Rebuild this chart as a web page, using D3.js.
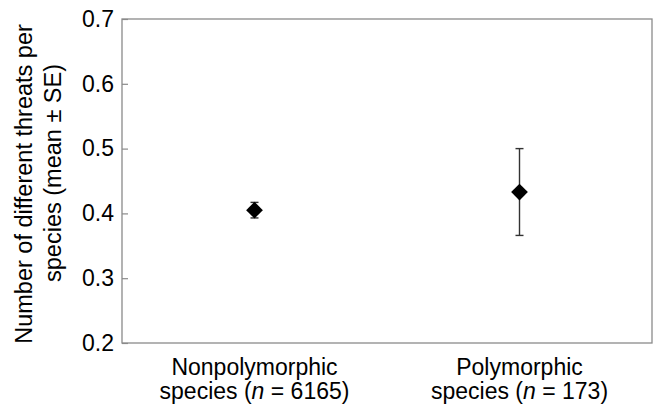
<!DOCTYPE html>
<html>
<head>
<meta charset="utf-8">
<script src="https://cdn.jsdelivr.net/npm/d3@7"></script>
<style>
  body { margin: 0; background: #fff; }
  text { font-family: "Liberation Sans", Arial, sans-serif; fill: #000; }
</style>
</head>
<body>
<svg id="chart"></svg>
<script>
// data
var groups = ['Nonpolymorphic', 'Polymorphic'];
var groupNotes = ['6165', '173'];
var means = [0.405, 0.433];
var errors = [0.012, 0.067];
var yTicks = [0.2, 0.3, 0.4, 0.5, 0.6, 0.7];

var width = 654, height = 407;
var margin = { top: 19, right: 2, bottom: 64, left: 122 };
var w = width - margin.left - margin.right;
var h = height - margin.top - margin.bottom;

var svg = d3.select('#chart').attr('width', width).attr('height', height);
var g = svg.append('g').attr('transform', 'translate(' + margin.left + ',' + margin.top + ')');

var x = d3.scalePoint().domain(groups).range([0, w]).padding(0.5);
var y = d3.scaleLinear().domain([0.2, 0.7]).range([h, 0]);

// frame
g.append('rect')
  .attr('x', 0).attr('y', 0).attr('width', w).attr('height', h)
  .attr('fill', 'none').attr('stroke', '#8a8a8a').attr('stroke-width', 1.3);

var yAxis = d3.axisLeft(y).tickValues(yTicks).tickFormat(d3.format('.1f')).tickSize(-6).tickPadding(8);
var ya = g.append('g').call(yAxis);
ya.select('.domain').remove();
ya.selectAll('line').attr('stroke', '#8a8a8a').attr('stroke-width', 1.2);
ya.selectAll('text').attr('font-size', 23).style('font-family', '"Liberation Sans", Arial, sans-serif').attr('fill', '#000');

// x labels
var xl = g.selectAll('.xlab').data(groups).enter().append('text')
  .attr('class', 'xlab')
  .attr('text-anchor', 'middle')
  .attr('font-size', 23)
  .attr('transform', function (d) { return 'translate(' + x(d) + ',' + (h + 32) + ')'; });
xl.append('tspan').attr('x', 0).attr('y', 0).text(function (d) { return d; });
xl.append('tspan').attr('x', 0).attr('y', 24).text('species (')
  .append('tspan').attr('font-style', 'italic').text('n');
xl.each(function (d, i) {
  d3.select(this).select('tspan:nth-child(2)').append('tspan').text(' = ' + groupNotes[i] + ')');
});

// y title
var yt = svg.append('text')
  .attr('text-anchor', 'middle')
  .attr('font-size', 23.5)
  .attr('transform', 'translate(32,184) rotate(-90)');
yt.append('tspan').attr('x', 0).attr('y', 0).text('Number of different threats per');
yt.append('tspan').attr('x', 11).attr('y', 29).text('species (mean \u00b1 SE)');

// error bars
var eb = g.selectAll('.eb').data(groups).enter().append('g').attr('class', 'eb');
eb.append('line')
  .attr('x1', function (d) { return x(d); }).attr('x2', function (d) { return x(d); })
  .attr('y1', function (d, i) { return y(means[i] - errors[i]); })
  .attr('y2', function (d, i) { return y(means[i] + errors[i]); })
  .attr('stroke', '#333').attr('stroke-width', 1.4);
[-1, 1].forEach(function (s) {
  eb.append('line')
    .attr('x1', function (d) { return x(d) - 4; }).attr('x2', function (d) { return x(d) + 4; })
    .attr('y1', function (d, i) { return y(means[i] + s * errors[i]); })
    .attr('y2', function (d, i) { return y(means[i] + s * errors[i]); })
    .attr('stroke', '#333').attr('stroke-width', 1.4);
});

// diamonds
g.selectAll('.pt').data(groups).enter().append('path')
  .attr('class', 'pt')
  .attr('d', d3.symbol(d3.symbolSquare, 140))
  .attr('transform', function (d, i) { return 'translate(' + x(d) + ',' + y(means[i]) + ') rotate(45)'; })
  .attr('fill', '#000');
</script>
</body>
</html>
